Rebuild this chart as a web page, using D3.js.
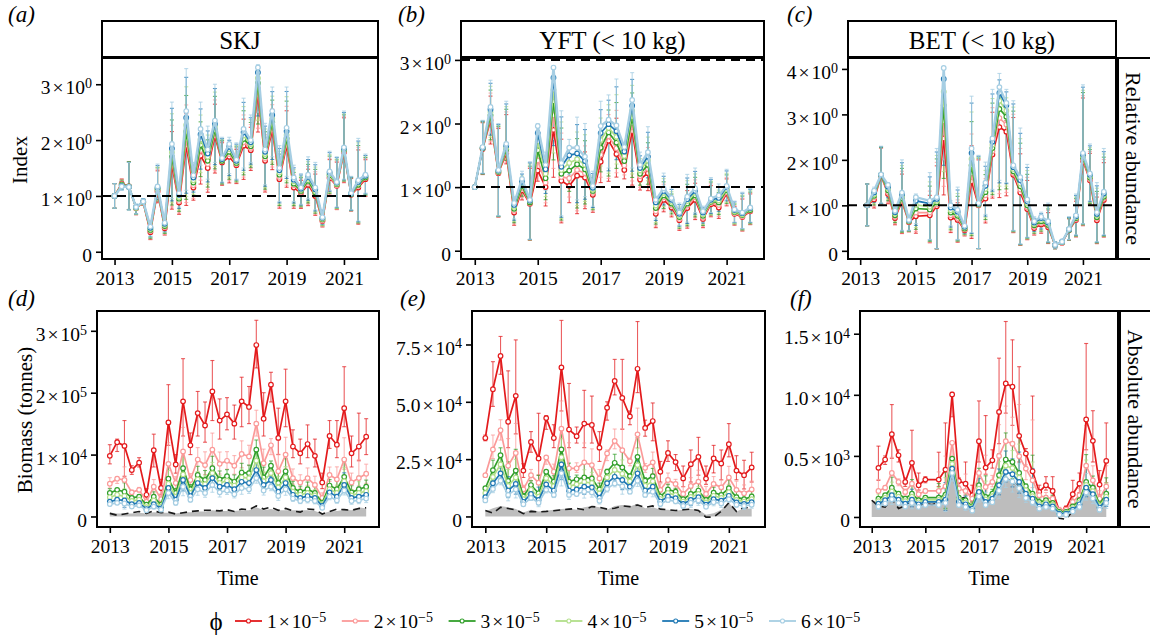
<!DOCTYPE html>
<html>
<head>
<meta charset="utf-8">
<script src="https://cdn.jsdelivr.net/npm/d3@7"></script>
<style>
  body { margin: 0; background: #fff; }
  svg { font-family: "Liberation Serif", "Times New Roman", serif; }
</style>
</head>
<body>
<div id="chart"></div>
<script>
// quarterly time steps (BET has no 2013.0 value and no 2015.25 value)
var quarters = [2013, 2013.25, 2013.5, 2013.75, 2014, 2014.25, 2014.5, 2014.75, 2015, 2015.25, 2015.5, 2015.75,
  2016, 2016.25, 2016.5, 2016.75, 2017, 2017.25, 2017.5, 2017.75, 2018, 2018.25, 2018.5, 2018.75,
  2019, 2019.25, 2019.5, 2019.75, 2020, 2020.25, 2020.5, 2020.75, 2021, 2021.25, 2021.5, 2021.75];
var quartersBet = [2013.25, 2013.5, 2013.75, 2014, 2014.25, 2014.5, 2014.75, 2015, 2015.5, 2015.75,
  2016, 2016.25, 2016.5, 2016.75, 2017, 2017.25, 2017.5, 2017.75, 2018, 2018.25, 2018.5, 2018.75,
  2019, 2019.25, 2019.5, 2019.75, 2020, 2020.25, 2020.5, 2020.75, 2021, 2021.25, 2021.5, 2021.75];

var phiMantissa = ["1", "2", "3", "4", "5", "6"];
var phiColors = ["#E31A1C", "#FB9A99", "#33A02C", "#B2DF8A", "#1F78B4", "#A6CEE3"];
var yearTicks = [2013, 2015, 2017, 2019, 2021];

// (a) SKJ relative abundance index, one array per phi
var skjIndex = [
  [1.0,1.22,1.17,0.78,0.88,0.35,1.08,0.42,1.55,0.88,1.9,1.15,1.72,1.5,2.07,1.6,1.7,1.55,1.9,1.82,2.83,1.63,2.18,1.3,1.9,1.15,1.05,1.2,1.0,0.55,1.32,1.18,1.78,1.02,1.15,1.3],
  [1.0,1.21,1.17,0.78,0.88,0.37,1.10,0.44,1.63,0.91,2.02,1.19,1.82,1.57,2.13,1.62,1.75,1.57,1.96,1.86,2.92,1.67,2.25,1.34,1.96,1.19,1.07,1.24,1.03,0.56,1.34,1.19,1.80,1.03,1.18,1.32],
  [1.0,1.20,1.17,0.79,0.89,0.39,1.12,0.46,1.70,0.95,2.15,1.24,1.91,1.63,2.18,1.63,1.79,1.59,2.02,1.89,3.02,1.71,2.32,1.38,2.03,1.22,1.09,1.27,1.06,0.58,1.37,1.21,1.82,1.03,1.20,1.33],
  [1.0,1.19,1.16,0.79,0.89,0.41,1.13,0.48,1.78,0.98,2.27,1.28,2.01,1.70,2.24,1.65,1.84,1.61,2.08,1.93,3.11,1.75,2.38,1.42,2.09,1.26,1.11,1.31,1.09,0.59,1.39,1.22,1.83,1.04,1.23,1.35],
  [1.0,1.18,1.16,0.80,0.90,0.43,1.15,0.50,1.85,1.02,2.40,1.33,2.10,1.76,2.29,1.66,1.88,1.63,2.14,1.96,3.21,1.79,2.45,1.46,2.16,1.29,1.13,1.34,1.12,0.61,1.42,1.24,1.85,1.04,1.25,1.36],
  [1.0,1.17,1.16,0.80,0.90,0.45,1.17,0.52,1.93,1.05,2.52,1.37,2.20,1.83,2.35,1.68,1.93,1.65,2.20,2.00,3.30,1.83,2.52,1.50,2.22,1.33,1.15,1.38,1.15,0.62,1.44,1.25,1.87,1.05,1.28,1.38]
];
// interval of the phi = 6e-5 series
var skjIndexLo = [0.78,1.1,0.75,0.68,0.85,0.28,0.95,0.37,0.95,0.8,1.1,1.1,1.55,1.3,1.6,1.25,1.4,1.3,1.5,1.6,2.5,1.2,1.7,0.9,1.35,0.9,0.85,0.95,0.75,0.5,1.1,0.8,1.3,0.75,0.55,1.05];
var skjIndexHi = [1.22,1.25,1.6,0.85,0.95,0.55,1.57,0.6,2.68,1.1,3.28,1.6,2.68,2.25,3.0,2.05,2.05,1.95,2.75,2.45,3.35,2.3,2.95,1.9,2.95,1.55,1.4,1.7,1.6,0.75,1.8,1.7,2.52,1.35,2.03,1.75];

// (b) YFT (< 10 kg) index
var yftIndex = [
  [1.0,1.6,2.05,1.22,1.53,0.6,0.95,0.74,1.26,1.0,1.9,1.1,1.02,1.18,1.15,0.88,1.4,1.73,1.52,1.27,1.88,1.12,1.22,0.58,0.8,0.68,0.48,0.67,0.8,0.5,0.73,0.68,0.9,0.58,0.53,0.62],
  [1.0,1.61,2.09,1.23,1.56,0.63,0.99,0.75,1.42,1.07,2.13,1.16,1.14,1.27,1.22,0.91,1.51,1.80,1.61,1.34,2.0,1.17,1.29,0.62,0.84,0.71,0.50,0.71,0.84,0.52,0.75,0.72,0.92,0.59,0.54,0.63],
  [1.0,1.61,2.13,1.24,1.59,0.66,1.02,0.76,1.58,1.14,2.35,1.21,1.26,1.36,1.28,0.94,1.62,1.86,1.70,1.41,2.1,1.21,1.35,0.67,0.87,0.74,0.53,0.74,0.87,0.55,0.77,0.76,0.95,0.61,0.56,0.64],
  [1.0,1.62,2.18,1.25,1.62,0.69,1.06,0.78,1.72,1.21,2.53,1.27,1.38,1.44,1.35,0.96,1.74,1.93,1.79,1.49,2.2,1.26,1.42,0.71,0.91,0.77,0.55,0.78,0.91,0.57,0.78,0.79,0.97,0.62,0.57,0.66],
  [1.0,1.62,2.22,1.26,1.65,0.72,1.09,0.79,1.85,1.28,2.72,1.32,1.50,1.53,1.41,0.99,1.85,1.99,1.88,1.56,2.28,1.30,1.48,0.76,0.94,0.80,0.58,0.81,0.94,0.60,0.80,0.83,1.0,0.64,0.59,0.67],
  [1.0,1.63,2.26,1.27,1.68,0.75,1.13,0.80,1.96,1.35,2.88,1.38,1.62,1.62,1.48,1.02,1.96,2.06,1.97,1.63,2.37,1.35,1.55,0.80,0.98,0.83,0.60,0.85,0.98,0.62,0.82,0.87,1.02,0.65,0.60,0.68]
];
var yftIndexLo = [1.0,1.22,1.85,0.55,1.5,0.5,0.95,0.18,1.7,0.95,1.75,0.55,1.2,0.8,0.85,0.7,1.5,1.3,1.5,1.45,1.3,1.15,1.2,0.5,0.75,0.65,0.4,0.45,0.6,0.45,0.6,0.65,0.8,0.45,0.35,0.45];
var yftIndexHi = [1.0,2.05,2.68,2.0,2.35,0.85,1.25,1.4,2.0,1.55,2.9,2.2,1.75,2.1,2.0,1.25,2.35,2.45,2.7,1.7,2.8,1.55,1.95,0.85,1.22,1.0,0.75,1.2,1.3,0.7,1.15,1.05,1.28,0.78,0.92,0.98];

// (c) BET (< 10 kg) index
var betIndex = [
  [1.0,1.13,1.65,1.25,0.72,1.08,0.63,0.76,0.78,0.98,2.47,0.73,0.68,0.45,1.53,1.0,1.15,2.12,2.72,2.62,1.67,1.28,0.92,0.5,0.58,0.52,0.12,0.18,0.45,0.68,1.98,1.55,0.67,1.12],
  [1.0,1.17,1.66,1.29,0.75,1.12,0.64,0.84,0.84,1.02,2.85,0.78,0.72,0.47,1.70,1.01,1.22,2.19,2.92,2.78,1.71,1.35,0.96,0.53,0.61,0.55,0.12,0.18,0.46,0.70,2.01,1.58,0.71,1.16],
  [1.0,1.21,1.66,1.33,0.78,1.16,0.65,0.93,0.91,1.06,3.20,0.84,0.77,0.49,1.88,1.02,1.29,2.26,3.12,2.95,1.75,1.42,1.0,0.56,0.65,0.57,0.12,0.19,0.46,0.72,2.05,1.61,0.74,1.19],
  [1.0,1.24,1.67,1.37,0.82,1.20,0.66,1.01,0.97,1.10,3.50,0.89,0.81,0.51,2.02,1.03,1.36,2.33,3.30,3.08,1.80,1.48,1.05,0.59,0.68,0.60,0.13,0.19,0.47,0.74,2.08,1.64,0.78,1.23],
  [1.0,1.28,1.67,1.41,0.85,1.24,0.67,1.10,1.04,1.14,3.78,0.95,0.86,0.53,2.15,1.04,1.43,2.40,3.47,3.20,1.84,1.55,1.09,0.62,0.72,0.62,0.13,0.20,0.47,0.76,2.12,1.67,0.81,1.26],
  [1.0,1.32,1.68,1.45,0.88,1.28,0.68,1.18,1.10,1.18,4.02,1.0,0.90,0.55,2.25,1.05,1.50,2.47,3.60,3.25,1.88,1.62,1.13,0.65,0.75,0.65,0.13,0.20,0.48,0.78,2.15,1.70,0.85,1.30]
];
var betIndexLo = [0.55,1.1,1.05,1.2,0.7,0.45,0.45,0.6,0.25,0.05,2.0,0.55,0.25,0.4,0.4,0.05,0.8,1.35,1.55,1.5,0.45,0.15,0.3,0.45,0.5,0.2,0.05,0.15,0.25,0.35,0.6,1.1,0.2,0.35];
var betIndexHi = [1.47,1.4,2.3,1.5,1.0,2.0,0.75,1.25,1.72,2.25,4.05,1.1,1.4,0.6,3.4,2.1,1.95,3.55,3.9,3.55,3.3,2.7,1.9,0.75,0.85,1.05,0.2,0.25,0.75,1.25,3.65,2.35,1.5,2.25];

// (d) SKJ biomass, units of 1e5 t
var skjBiomass = [
  [0.98,1.2,1.14,0.75,0.87,0.35,1.07,0.46,1.52,0.84,1.86,1.15,1.67,1.47,2.02,1.55,1.65,1.5,1.86,1.77,2.77,1.58,2.13,1.27,1.86,1.13,1.02,1.17,0.98,0.55,1.3,1.16,1.75,1.02,1.13,1.29],
  [0.53,0.61,0.59,0.39,0.43,0.24,0.48,0.28,0.85,0.54,1.05,0.59,0.92,0.83,1.08,0.85,0.9,0.82,1.01,0.97,1.5,0.86,1.15,0.73,1.0,0.62,0.55,0.62,0.51,0.3,0.67,0.6,0.92,0.55,0.62,0.69],
  [0.38,0.43,0.4,0.3,0.32,0.19,0.32,0.19,0.61,0.38,0.78,0.44,0.67,0.59,0.78,0.6,0.65,0.56,0.71,0.7,1.08,0.63,0.82,0.54,0.73,0.46,0.4,0.44,0.38,0.22,0.5,0.44,0.64,0.39,0.44,0.48],
  [0.31,0.35,0.33,0.25,0.27,0.15,0.26,0.16,0.53,0.32,0.68,0.38,0.6,0.52,0.7,0.54,0.58,0.5,0.63,0.62,0.9,0.57,0.7,0.47,0.63,0.4,0.35,0.38,0.34,0.19,0.44,0.38,0.57,0.34,0.38,0.41],
  [0.24,0.27,0.26,0.2,0.22,0.12,0.2,0.13,0.46,0.27,0.59,0.33,0.54,0.46,0.62,0.48,0.51,0.44,0.56,0.54,0.75,0.51,0.59,0.4,0.54,0.35,0.3,0.33,0.3,0.17,0.39,0.32,0.51,0.3,0.32,0.35],
  [0.2,0.22,0.21,0.16,0.18,0.1,0.16,0.11,0.38,0.22,0.48,0.27,0.44,0.38,0.51,0.39,0.42,0.36,0.46,0.44,0.62,0.42,0.48,0.33,0.44,0.29,0.25,0.27,0.25,0.14,0.32,0.26,0.42,0.25,0.26,0.29]
];
// interval of the phi = 1e-5 series
var skjBiomassLo = [0.85,1.05,0.65,0.68,0.8,0.25,0.8,0.35,1.15,0.7,1.3,1.0,1.3,1.2,1.55,1.25,1.4,1.25,1.45,1.5,2.4,1.3,1.85,1.0,1.45,0.95,0.85,0.95,0.8,0.45,1.1,0.95,1.45,0.8,0.9,1.0];
var skjBiomassHi = [1.16,1.25,1.55,0.82,0.95,0.45,1.33,0.6,2.13,1.0,2.55,1.35,2.02,1.85,2.52,1.9,1.92,1.8,2.25,2.1,3.17,2.0,2.33,1.75,2.38,1.4,1.25,1.48,1.25,0.7,1.55,1.55,2.42,1.3,1.67,1.58];
var skjCatch = [0.065,0.05,0.05,0.05,0.06,0.05,0.07,0.06,0.06,0.05,0.07,0.07,0.08,0.08,0.1,0.09,0.09,0.09,0.1,0.1,0.15,0.1,0.12,0.1,0.1,0.1,0.1,0.1,0.09,0.05,0.08,0.09,0.11,0.1,0.15,0.13];
var skjFloor = [0.05,0.02,0.04,0.06,0.08,0.05,0.09,0.06,0.07,0.04,0.06,0.08,0.09,0.1,0.1,0.09,0.11,0.08,0.12,0.11,0.17,0.12,0.15,0.1,0.13,0.09,0.07,0.12,0.11,0.04,0.08,0.12,0.11,0.1,0.13,0.14];

// (e) YFT biomass, units of 1e4 t
var yftBiomass = [
  [3.42,5.55,7.0,4.13,5.26,2.0,3.25,2.53,4.29,3.42,6.5,3.79,3.5,4.05,3.99,3.0,4.74,5.91,5.17,4.36,6.44,3.86,4.16,1.95,2.77,2.37,1.66,2.28,2.6,1.65,2.53,2.31,3.15,2.0,1.8,2.14],
  [1.8,2.92,3.76,2.21,2.77,1.18,1.8,1.47,2.57,1.95,3.83,2.1,2.1,2.36,2.24,1.66,2.75,3.29,2.89,2.41,3.58,2.12,2.36,1.16,1.59,1.42,0.98,1.33,1.52,0.98,1.42,1.27,1.7,1.16,1.01,1.18],
  [1.23,2.02,2.67,1.55,2.0,0.87,1.37,1.01,1.95,1.52,2.92,1.52,1.62,1.7,1.66,1.18,1.95,2.34,2.14,1.76,2.6,1.56,1.76,0.87,1.18,1.08,0.75,0.98,1.13,0.72,1.04,0.94,1.23,0.84,0.75,0.87],
  [1.02,1.72,2.27,1.33,1.7,0.75,1.17,0.86,1.67,1.32,2.58,1.32,1.4,1.5,1.46,1.0,1.7,2.03,1.86,1.53,2.24,1.34,1.53,0.76,1.02,0.94,0.65,0.85,0.98,0.61,0.9,0.81,1.06,0.72,0.65,0.75],
  [0.84,1.45,1.88,1.13,1.42,0.64,0.98,0.72,1.4,1.13,2.27,1.13,1.18,1.3,1.27,0.82,1.45,1.73,1.59,1.3,1.88,1.13,1.3,0.65,0.87,0.8,0.55,0.72,0.84,0.51,0.75,0.69,0.9,0.61,0.55,0.62],
  [0.7,1.2,1.56,0.94,1.18,0.53,0.81,0.6,1.16,0.94,1.88,0.94,0.98,1.08,1.05,0.68,1.2,1.44,1.32,1.08,1.56,0.94,1.08,0.54,0.72,0.66,0.46,0.6,0.7,0.42,0.62,0.57,0.75,0.51,0.46,0.51]
];
var yftBiomassLo = [3.3,4.8,6.2,3.0,3.6,1.7,2.8,1.8,3.8,3.0,4.6,3.0,3.2,3.0,3.2,2.4,4.2,5.3,3.8,4.0,5.4,3.5,3.3,1.5,2.4,2.0,1.3,1.5,1.8,1.4,1.9,1.6,2.6,1.6,1.2,1.5];
var yftBiomassHi = [3.55,6.75,7.85,6.35,7.7,2.3,3.7,4.5,4.4,4.0,8.55,5.8,3.9,5.5,5.25,3.7,5.0,6.85,6.85,4.6,8.5,4.2,4.95,2.4,3.3,2.7,2.2,2.9,3.45,2.2,3.1,2.9,4.05,2.65,2.45,2.8];
var yftCatch = [0.22,0.36,0.46,0.4,0.33,0.17,0.29,0.22,0.25,0.29,0.33,0.35,0.29,0.4,0.46,0.4,0.29,0.46,0.5,0.43,0.55,0.36,0.4,0.29,0.29,0.25,0.29,0.32,0.29,0.07,0.14,0.29,0.6,0.22,0.36,0.32];
var yftFloor = [0.26,0.14,0.4,0.35,0.29,0.12,0.22,0.2,0.22,0.25,0.29,0.32,0.35,0.29,0.43,0.4,0.32,0.36,0.46,0.43,0.5,0.4,0.46,0.32,0.29,0.26,0.29,0.32,0.26,-0.03,-0.03,0.22,0.6,0.22,0.4,0.35];

// (f) BET biomass, units of 1e3 t
var betBiomass = [
  [4.02,4.7,6.78,5.05,2.87,4.43,2.6,3.06,3.06,3.88,10.03,2.95,2.73,1.78,6.2,4.04,4.64,8.6,10.93,10.66,6.64,5.19,3.74,2.05,2.6,2.13,0.49,0.68,1.86,2.73,7.98,6.23,2.65,4.59],
  [2.13,2.4,3.6,2.87,2.05,2.73,1.86,2.13,2.13,2.51,6.07,2.32,2.13,1.5,3.6,2.46,2.87,5.0,6.2,6.0,4.97,3.96,3.0,1.78,1.58,1.5,0.55,0.6,1.23,1.78,4.2,3.0,1.5,2.5],
  [1.5,1.78,2.4,1.91,1.5,1.91,1.37,1.58,1.58,1.83,4.78,1.58,1.37,0.87,2.6,1.64,1.91,3.42,4.7,4.5,3.6,2.51,1.91,1.23,1.37,1.15,0.41,0.41,0.87,1.37,2.87,2.4,1.04,1.91],
  [1.3,1.57,2.1,1.67,1.3,1.67,1.2,1.4,1.4,1.62,4.35,1.4,1.2,0.78,2.32,1.43,1.7,3.0,4.2,4.0,3.22,2.2,1.7,1.05,1.2,1.0,0.34,0.34,0.73,1.2,2.62,2.12,0.9,1.66],
  [1.09,1.37,1.78,1.42,1.09,1.42,1.04,1.23,1.23,1.42,3.96,1.23,1.04,0.68,2.05,1.23,1.5,2.6,3.69,3.5,2.87,1.91,1.5,0.87,1.04,0.87,0.27,0.27,0.6,1.04,2.4,1.86,0.77,1.42],
  [0.85,1.1,1.45,1.15,0.85,1.15,0.82,0.98,0.98,1.15,3.6,0.98,0.82,0.52,1.68,0.98,1.2,2.15,3.1,2.9,2.35,1.55,1.2,0.68,0.82,0.68,0.18,0.18,0.45,0.82,2.0,1.52,0.6,1.15]
];
var betBiomassLo = [3.0,4.3,4.8,4.5,2.5,2.6,2.2,2.8,2.5,1.5,8.2,2.5,1.8,1.2,4.5,3.5,4.0,6.0,8.5,7.5,4.5,4.0,3.0,1.6,2.2,1.7,0.3,0.5,1.4,2.0,5.5,4.5,1.8,2.8];
var betBiomassHi = [5.8,5.0,9.2,5.5,3.2,7.1,3.6,3.3,5.3,7.7,10.2,3.2,4.5,2.6,9.5,8.3,5.5,13.0,16.0,14.5,12.3,5.6,9.9,2.6,3.3,3.3,0.7,0.9,3.0,3.6,14.2,8.7,3.8,7.7];
var betCatch = [1.37,1.23,1.23,1.64,1.1,1.05,1.37,1.1,1.23,1.23,1.37,1.64,3.8,1.37,1.37,0.82,2.3,1.37,1.64,2.7,3.28,3.0,2.6,2.05,1.5,1.1,1.23,1.05,0.14,0.14,0.55,1.1,2.6,2.0,0.82,1.37];
var betFloor = [1.37,0.9,0.8,1.5,0.7,0.9,1.2,0.8,1.1,1.0,1.2,1.6,3.5,1.5,1.6,0.6,2.2,1.1,1.5,2.5,3.2,2.8,2.5,1.9,1.5,1.2,1.3,1.1,-0.1,-0.2,0.5,1.2,2.4,1.9,0.7,1.2];

// y tick labels as [mantissa, exponent]
var indexTicks = [["0"], ["1", "0"], ["2", "0"], ["3", "0"], ["4", "0"]];
var skjBioTicks = [["0"], ["1", "4"], ["2", "5"], ["3", "5"]];
var yftBioTicks = [["0"], ["2.5", "4"], ["5.0", "4"], ["7.5", "4"]];
var betBioTicks = [["0"], ["0.5", "3"], ["1.0", "4"], ["1.5", "4"]];

var xDomain = [2012.5625, 2022.1875];

var svg = d3.select("#chart").append("svg")
  .attr("width", 1150)
  .attr("height", 636);

// writes "m × 10^e" with plotmath-like spacing round the times sign
function sciText(sel, parts) {
  sel.text(null);
  sel.append("tspan").text(parts[0]);
  if (parts.length === 1) return;
  sel.append("tspan").attr("dx", 2).text("\u00d7");
  sel.append("tspan").attr("dx", 2).text("10");
  sel.append("tspan").attr("dy", "-0.45em").attr("font-size", "0.72em").text(parts[1]);
}

var panels = [
  { tag: "(a)", tagX: 8, strip: "SKJ", x0: 102, x1: 378, y0: 58, y1: 259, times: quarters, series: skjIndex,
    lo: skjIndexLo, hi: skjIndexHi, ref: 5, yDom: [-0.13, 3.47], ticks: [0, 1, 2, 3], labels: indexTicks, hlines: [1] },
  { tag: "(b)", tagX: 398, strip: "YFT (< 10 kg)", x0: 461, x1: 764, y0: 58, y1: 259, times: quarters, series: yftIndex,
    lo: yftIndexLo, hi: yftIndexHi, ref: 5, yDom: [-0.13, 3.03], ticks: [0, 1, 2, 3], labels: indexTicks, hlines: [1, 3] },
  { tag: "(c)", tagX: 787, strip: "BET (< 10 kg)", x0: 848, x1: 1116, y0: 58, y1: 259, times: quartersBet, series: betIndex,
    lo: betIndexLo, hi: betIndexHi, ref: 5, yDom: [-0.18, 4.24], ticks: [0, 1, 2, 3, 4], labels: indexTicks, hlines: [1],
    side: "Relative abundance" },
  { tag: "(d)", tagX: 8, x0: 97, x1: 379, y0: 311, y1: 527, times: quarters, series: skjBiomass,
    lo: skjBiomassLo, hi: skjBiomassHi, ref: 0, yDom: [-0.17, 3.32], ticks: [0, 1, 2, 3], labels: skjBioTicks,
    fill: skjCatch, floor: skjFloor, time: true },
  { tag: "(e)", tagX: 400, x0: 472, x1: 765, y0: 311, y1: 527, times: quarters, series: yftBiomass,
    lo: yftBiomassLo, hi: yftBiomassHi, ref: 0, yDom: [-0.46, 8.96], ticks: [0, 2.5, 5, 7.5], labels: yftBioTicks,
    fill: yftCatch, floor: yftFloor, time: true },
  { tag: "(f)", tagX: 790, x0: 860, x1: 1118, y0: 311, y1: 527, times: quartersBet, series: betBiomass,
    lo: betBiomassLo, hi: betBiomassHi, ref: 0, yDom: [-0.82, 16.86], ticks: [0, 5, 10, 15], labels: betBioTicks,
    fill: betCatch, floor: betFloor, time: true, side: "Absolute abundance" }
];

function drawPanel(p) {
  var g = svg.append("g");
  var x = d3.scaleLinear().domain(xDomain).range([p.x0, p.x1]);
  var y = d3.scaleLinear().domain(p.yDom).range([p.y1, p.y0]);
  var top = p.y0 < 100;

  g.append("rect")
    .attr("x", p.x0).attr("y", p.y0)
    .attr("width", p.x1 - p.x0).attr("height", p.y1 - p.y0)
    .attr("fill", "#fff");

  if (p.fill) {
    var area = d3.area()
      .x(function(d, i) { return x(quarters[i]); })
      .y0(y(0))
      .y1(function(d) { return y(d); });
    g.append("path").datum(p.fill)
      .attr("d", area)
      .attr("fill", "#bdbdbd");
    g.append("path").datum(p.floor)
      .attr("d", d3.line()
        .x(function(d, i) { return x(quarters[i]); })
        .y(function(d) { return y(d); }))
      .attr("fill", "none")
      .attr("stroke", "#1a1a1a")
      .attr("stroke-width", 1.6)
      .attr("stroke-dasharray", "7,5");
  }

  // error bars, scaled from the reference interval
  var refVals = p.series[p.ref];
  p.series.forEach(function(vals, k) {
    var eb = g.append("g")
      .attr("stroke", phiColors[k])
      .attr("stroke-opacity", top ? 0.75 : 0.7)
      .attr("stroke-width", 1.1);
    vals.forEach(function(v, i) {
      var lo = v * p.lo[i] / refVals[i],
          hi = v * p.hi[i] / refVals[i],
          cx = x(p.times[i]);
      if (hi - lo < 1e-6) return;
      eb.append("line").attr("x1", cx).attr("x2", cx).attr("y1", y(lo)).attr("y2", y(hi));
      eb.append("line").attr("x1", cx - 2).attr("x2", cx + 2).attr("y1", y(lo)).attr("y2", y(lo));
      eb.append("line").attr("x1", cx - 2).attr("x2", cx + 2).attr("y1", y(hi)).attr("y2", y(hi));
    });
  });

  var line = d3.line()
    .x(function(d, i) { return x(p.times[i]); })
    .y(function(d) { return y(d); });

  p.series.forEach(function(vals, k) {
    g.append("path").datum(vals)
      .attr("d", line)
      .attr("fill", "none")
      .attr("stroke", phiColors[k])
      .attr("stroke-width", top && k === 5 ? 2.4 : 1.7);
    g.selectAll(null)
      .data(vals)
      .enter()
      .append("circle")
      .attr("cx", function(d, i) { return x(p.times[i]); })
      .attr("cy", function(d) { return y(d); })
      .attr("r", 2.3)
      .attr("fill", "#fff")
      .attr("stroke", phiColors[k])
      .attr("stroke-width", 1.2);
  });

  if (p.hlines) {
    p.hlines.forEach(function(h) {
      g.append("line")
        .attr("x1", p.x0).attr("x2", p.x1)
        .attr("y1", y(h)).attr("y2", y(h))
        .attr("stroke", "#000")
        .attr("stroke-width", 2)
        .attr("stroke-dasharray", "9,6");
    });
  }

  g.append("rect")
    .attr("x", p.x0).attr("y", p.y0)
    .attr("width", p.x1 - p.x0).attr("height", p.y1 - p.y0)
    .attr("fill", "none")
    .attr("stroke", "#000")
    .attr("stroke-width", 2);

  // axes
  var xAxis = g.append("g")
    .attr("transform", "translate(0," + p.y1 + ")")
    .call(d3.axisBottom(x).tickValues(yearTicks).tickFormat(d3.format("d")).tickSize(6).tickPadding(6));
  var yAxis = g.append("g")
    .attr("transform", "translate(" + p.x0 + ",0)")
    .call(d3.axisLeft(y).tickValues(p.ticks).tickSize(6).tickPadding(4));
  [xAxis, yAxis].forEach(function(a) {
    a.select(".domain").remove();
    a.selectAll(".tick line").attr("stroke", "#000").attr("stroke-width", 1.6);
    a.selectAll(".tick text")
      .attr("fill", "#000")
      .attr("font-size", 19.5)
      .attr("font-family", "Liberation Serif, serif");
  });
  yAxis.selectAll(".tick text")
    .attr("dy", "0.5em")
    .each(function(d, i) { sciText(d3.select(this), p.labels[i]); });

  // panel tag
  svg.append("text")
    .attr("x", p.tagX)
    .attr("y", p.y0 - (top ? 36 : 5))
    .attr("font-size", 23)
    .attr("font-style", "italic")
    .text(p.tag);

  if (p.strip) {
    svg.append("rect")
      .attr("x", p.x0).attr("y", 21)
      .attr("width", p.x1 - p.x0).attr("height", 36)
      .attr("fill", "#fff")
      .attr("stroke", "#000")
      .attr("stroke-width", 2);
    svg.append("text")
      .attr("x", (p.x0 + p.x1) / 2)
      .attr("y", 40)
      .attr("dy", "0.35em")
      .attr("text-anchor", "middle")
      .attr("font-size", 25)
      .text(p.strip);
  }

  if (p.side) {
    svg.append("rect")
      .attr("x", p.x1 + 2).attr("y", p.y0)
      .attr("width", 40).attr("height", p.y1 - p.y0)
      .attr("fill", "#fff")
      .attr("stroke", "#000")
      .attr("stroke-width", 2);
    svg.append("text")
      .attr("transform", "translate(" + (p.x1 + 18) + "," + ((p.y0 + p.y1) / 2) + ") rotate(90)")
      .attr("dy", "0.35em")
      .attr("text-anchor", "middle")
      .attr("font-size", 22)
      .text(p.side);
  }

  if (p.time) {
    svg.append("text")
      .attr("x", (p.x0 + p.x1) / 2)
      .attr("y", 585)
      .attr("text-anchor", "middle")
      .attr("font-size", 20)
      .text("Time");
  }
}

panels.forEach(drawPanel);

// y axis titles
svg.append("text")
  .attr("transform", "translate(20,160) rotate(-90)")
  .attr("dy", "0.35em")
  .attr("text-anchor", "middle")
  .attr("font-size", 21)
  .text("Index");
svg.append("text")
  .attr("transform", "translate(25,420) rotate(-90)")
  .attr("dy", "0.35em")
  .attr("text-anchor", "middle")
  .attr("font-size", 21)
  .text("Biomass (tonnes)");

// legend
var legend = svg.append("g").attr("transform", "translate(0,621)");
legend.append("text")
  .attr("x", 216).attr("y", 0)
  .attr("dy", "0.35em")
  .attr("text-anchor", "middle")
  .attr("font-size", 25)
  .text("\u03d5");
var items = legend.selectAll(".item")
  .data(phiMantissa)
  .enter()
  .append("g")
  .attr("class", "item")
  .attr("transform", function(d, i) { return "translate(" + (235 + i * 106.8) + ",0)"; });
items.append("line")
  .attr("x1", 0).attr("x2", 27)
  .attr("stroke", function(d, i) { return phiColors[i]; })
  .attr("stroke-width", 1.8);
items.append("circle")
  .attr("cx", 13.5).attr("r", 2)
  .attr("fill", "#fff")
  .attr("stroke", function(d, i) { return phiColors[i]; })
  .attr("stroke-width", 1.1);
items.append("text")
  .attr("x", 32)
  .attr("dy", "0.35em")
  .attr("font-size", 19.5)
  .each(function(d) { sciText(d3.select(this), [d, "\u22125"]); });
</script>
</body>
</html>
